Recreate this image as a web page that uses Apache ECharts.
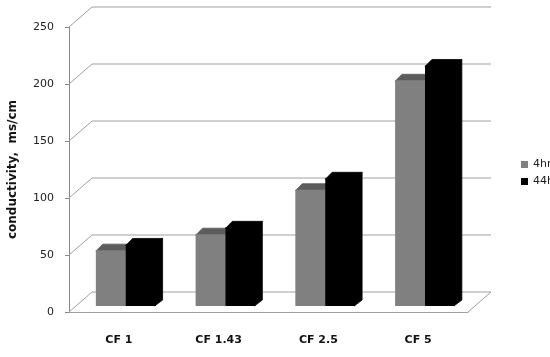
<!DOCTYPE html>
<html>
<head>
<meta charset="utf-8">
<script src="https://cdn.jsdelivr.net/npm/echarts@6/dist/echarts.min.js"></script>
<style>
  html, body { margin: 0; padding: 0; background: #fff; }
  #chart { width: 550px; height: 357px; }
</style>
</head>
<body>
<div id="chart"></div>
<script>
// 数据
var categories = ['CF 1', 'CF 1.43', 'CF 2.5', 'CF 5'];
var hr4 = [49, 63, 102, 198];
var hr44 = [54, 69, 112, 211];
var yTicks = [0, 50, 100, 150, 200, 250];

// 3D 深度（像素）
var DEPTH = [23, -20];
var F1 = 0.3, F2 = 0.6;
var gridColor = '#a0a0a0';

// 背景墙 + 地板
function renderWall(params, api) {
	var cs = params.coordSys;
	var v = api.value(1);
	var y = api.coord([0, v])[1];
	var left = cs.x, right = cs.x + cs.width;
	var children = [{
		type: 'polyline',
		shape: { points: [[left, y], [left + DEPTH[0], y + DEPTH[1]], [right + DEPTH[0], y + DEPTH[1]]] },
		style: { stroke: gridColor, lineWidth: 1, fill: null }
	}];
	if (v === 0) {
		children.push({
			type: 'line',
			shape: { x1: right, y1: y, x2: right + DEPTH[0], y2: y + DEPTH[1] },
			style: { stroke: gridColor, lineWidth: 1 }
		});
	}
	return { type: 'group', children: children };
}

function makeBar(slot, frontColor, topColor, sideColor) {
	return function (params, api) {
		var cat = api.value(0), val = api.value(1);
		var catW = api.size([1, 0])[0];
		var base = api.coord([cat, 0]);
		var top = api.coord([cat, val]);
		var bw = catW * 0.3;
		var ox = DEPTH[0] * F1, oy = DEPTH[1] * F1;
		var dx = DEPTH[0] * (F2 - F1), dy = DEPTH[1] * (F2 - F1);
		var x0 = base[0] - bw + slot * bw + ox;
		var yt = top[1] + oy, yb = base[1] + oy;
		return {
			type: 'group',
			children: [{
				type: 'polygon',
				shape: { points: [[x0 + bw - 1, yt], [x0 + bw + dx, yt + dy], [x0 + bw + dx, yb + dy], [x0 + bw - 1, yb]] },
				style: { fill: sideColor, stroke: sideColor, lineWidth: 0.8 }
			}, {
				type: 'polygon',
				shape: { points: [[x0, yt + 1], [x0 + bw, yt + 1], [x0 + bw + dx, yt + dy], [x0 + dx, yt + dy]] },
				style: { fill: topColor, stroke: topColor, lineWidth: 0.8 }
			}, {
				type: 'rect',
				shape: { x: x0, y: yt, width: bw, height: yb - yt },
				style: { fill: frontColor }
			}]
		};
	};
}

var chart = echarts.init(document.getElementById('chart'));
chart.setOption({
	animation: false,
	backgroundColor: '#fff',
	grid: { left: 69, right: 82, top: 27, bottom: 45, outerBoundsMode: 'none' },
	legend: {
		data: ['4hr', '44hr'],
		orient: 'vertical',
		left: 521,
		top: 159,
		padding: 0,
		itemWidth: 7,
		itemHeight: 7,
		itemGap: 6,
		icon: 'rect',
		textStyle: { fontFamily: 'DejaVu Sans', fontSize: 11, color: '#222' }
	},
	xAxis: {
		type: 'category',
		data: categories,
		axisLine: { show: true, lineStyle: { color: gridColor } },
		axisTick: { show: false },
		axisLabel: { fontFamily: 'DejaVu Sans', fontSize: 11, fontWeight: 'bold', color: '#111', margin: 23 },
		splitLine: { show: false }
	},
	yAxis: {
		type: 'value',
		min: 0,
		max: 250,
		interval: 50,
		name: 'conductivity,  ms/cm',
		nameLocation: 'middle',
		nameGap: 50,
		nameTextStyle: { fontFamily: 'DejaVu Sans', fontSize: 12, fontWeight: 'bold', color: '#111' },
		axisLine: { show: true, lineStyle: { color: '#888' } },
		axisTick: { show: true, length: 4, lineStyle: { color: '#888' } },
		axisLabel: { fontFamily: 'DejaVu Sans', fontSize: 11, color: '#222', margin: 15 },
		splitLine: { show: false }
	},
	series: [{
		name: 'walls',
		type: 'custom',
		clip: false,
		silent: true,
		renderItem: renderWall,
		data: yTicks.map(function (v) { return [0, v]; }),
		encode: { x: 0, y: 1 }
	}, {
		name: '4hr',
		type: 'custom',
		clip: false,
		itemStyle: { color: '#808080' },
		renderItem: makeBar(0, '#808080', '#5c5c5c', '#6a6a6a'),
		data: hr4.map(function (v, i) { return [i, v]; }),
		encode: { x: 0, y: 1 }
	}, {
		name: '44hr',
		type: 'custom',
		clip: false,
		itemStyle: { color: '#000000' },
		renderItem: makeBar(1, '#000000', '#000000', '#000000'),
		data: hr44.map(function (v, i) { return [i, v]; }),
		encode: { x: 0, y: 1 }
	}]
});
</script>
</body>
</html>
